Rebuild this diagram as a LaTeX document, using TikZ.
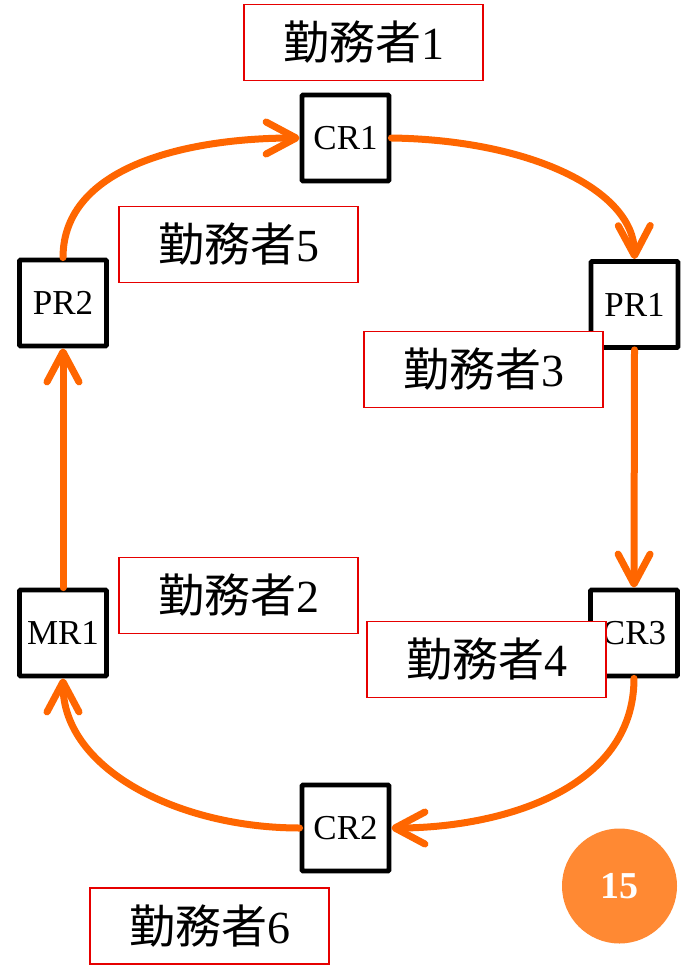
\documentclass[tikz,border=0pt]{standalone}
\usepackage{fontspec}
\newfontfamily\tnr{Liberation Serif}
\newfontfamily\cjk{Noto Sans CJK JP}
\usetikzlibrary{arrows.meta}
\definecolor{arrorange}{RGB}{255,102,0}
\definecolor{badge}{RGB}{255,137,51}
\definecolor{lblred}{RGB}{230,0,0}
\tikzset{
  station/.style={draw=black, line width=4.8pt, rounded corners=1pt, minimum width=87pt, minimum height=86pt, inner sep=0pt, fill=white, font=\tnr\fontsize{35}{40}\selectfont},
  worker/.style={draw=lblred, line width=1.5pt, fill=white, minimum width=239pt, minimum height=76pt, inner sep=0pt, font=\tnr\fontsize{46}{50}\selectfont},
  flow/.style={draw=arrorange, line width=7pt, line cap=round, line join=round, -{Straight Barb[length=30pt,width=32pt,line cap=round,line join=round]}},
}
\newcommand{\kinmu}[1]{{\cjk 勤務者}#1}
\begin{document}
\begin{tikzpicture}[x=1pt,y=-1pt]
\useasboundingbox (0,0) rectangle (683,966);
% stations
\node[station] (cr1) at (345.5,138) {CR1};
\node[station] (pr1) at (634.5,304.5) {PR1};
\node[station] (pr2) at (63,303) {PR2};
\node[station] (mr1) at (63,633) {MR1};
\node[station] (cr3) at (634,633) {CR3};
\node[station] (cr2) at (345.5,828) {CR2};
% connectors
\draw[flow] (pr2.north) .. controls (63,165) and (190,138) .. (cr1.west);
\draw[flow] (cr1.east) .. controls (530,140) and (634,190) .. (pr1.north);
\draw[flow] (pr1.south) -- (cr3.north);
\draw[flow] (cr3.south) .. controls (634,790) and (500,828) .. (cr2.east);
\draw[flow] (cr2.west) .. controls (180,828) and (63,770) .. (mr1.south);
\draw[flow] (mr1.north) -- (pr2.south);
% worker labels
\node[worker] (w1) at (363.5,42.5) {\kinmu{1}};
\node[worker] (w5) at (238.5,244.5) {\kinmu{5}};
\node[worker] (w3) at (483.5,369.5) {\kinmu{3}};
\node[worker] (w2) at (238.5,595.5) {\kinmu{2}};
\node[worker] (w4) at (486.5,659.5) {\kinmu{4}};
\node[worker] (w6) at (209.5,926) {\kinmu{6}};
% page badge
\node[circle, fill=badge, minimum size=115pt, inner sep=0pt, text=white, font=\tnr\bfseries\fontsize{38}{42}\selectfont] (page) at (619.5,886) {15};
\end{tikzpicture}
\end{document}
